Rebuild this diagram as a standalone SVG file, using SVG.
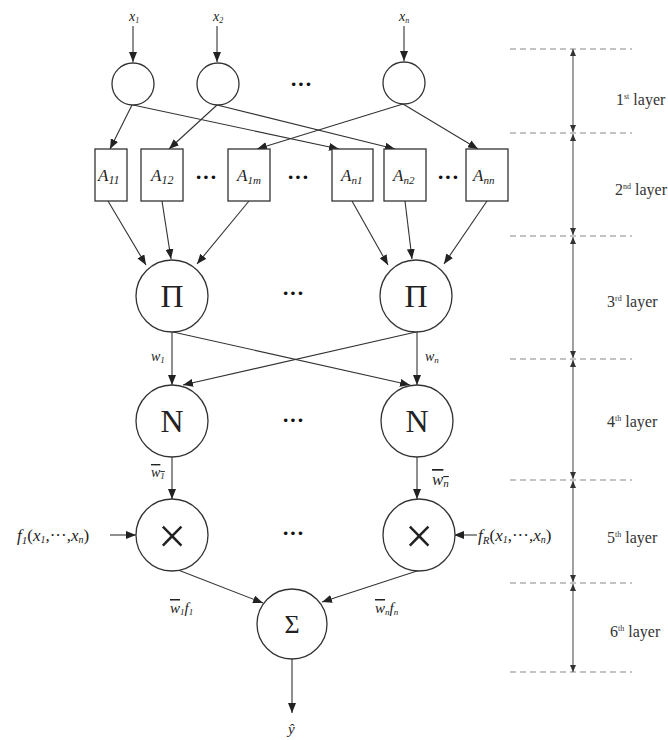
<svg xmlns="http://www.w3.org/2000/svg" width="668" height="740" viewBox="0 0 668 740">
<defs>
<marker id="ah" markerUnits="userSpaceOnUse" markerWidth="10" markerHeight="8" refX="10" refY="4" orient="auto-start-reverse" viewBox="0 0 10 8">
<path d="M0,0 L10,4 L0,8 z" fill="#222"/>
</marker>
<marker id="as" markerUnits="userSpaceOnUse" markerWidth="7" markerHeight="6" refX="7" refY="3" orient="auto-start-reverse" viewBox="0 0 7 6">
<path d="M0,0 L7,3 L0,6 z" fill="#333"/>
</marker>
</defs>
<style>
.n{fill:#fff;stroke:#333;stroke-width:1.3}
.c line,.c path{stroke:#333;stroke-width:1.1;fill:none;marker-end:url(#ah)}
.t{font-family:"Liberation Serif",serif;fill:#222}
.i{font-style:italic}
.big{text-anchor:middle}
.dots{font-family:"Liberation Serif",serif;font-size:22px;font-weight:bold;fill:#111;text-anchor:middle}
.dash{stroke:#888;stroke-width:1.1;stroke-dasharray:6,4}
.scale{stroke:#555;stroke-width:1.1;marker-start:url(#as);marker-end:url(#as)}
.lay{font-family:"Liberation Serif",serif;font-size:16px;fill:#333}
</style>

<rect width="668" height="740" fill="#fff"/>

<!-- connectors -->
<g id="connectors" class="c">
<line x1="133" y1="26" x2="133" y2="62"/>
<line x1="217" y1="26" x2="217" y2="62"/>
<line x1="404" y1="26" x2="404" y2="61"/>
<line x1="132" y1="105" x2="110" y2="149"/>
<line x1="133" y1="105" x2="339" y2="149"/>
<line x1="217" y1="105" x2="169" y2="149"/>
<line x1="217" y1="105" x2="395" y2="149"/>
<line x1="403" y1="104" x2="257" y2="149"/>
<line x1="403" y1="104" x2="478" y2="149"/>
<line x1="108" y1="201" x2="146" y2="265"/>
<line x1="162" y1="201" x2="171" y2="259"/>
<line x1="249" y1="201" x2="197" y2="264"/>
<line x1="352" y1="201" x2="388" y2="265"/>
<line x1="405" y1="201" x2="412" y2="259"/>
<line x1="487" y1="201" x2="444" y2="264"/>
<line x1="172" y1="332" x2="172" y2="385"/>
<line x1="173" y1="332" x2="410" y2="385"/>
<line x1="417" y1="332" x2="417" y2="385"/>
<line x1="416" y1="332" x2="183" y2="385"/>
<line x1="172" y1="457" x2="172" y2="499"/>
<line x1="417" y1="457" x2="417" y2="499"/>
<line x1="110" y1="535" x2="136" y2="535"/>
<line x1="477" y1="535" x2="454" y2="535"/>
<line x1="173" y1="568" x2="263" y2="603"/>
<line x1="420" y1="570" x2="322" y2="602"/>
<line x1="292" y1="659" x2="292" y2="713"/>
</g>

<!-- layer 1 -->
<g id="in1"><circle class="n" cx="133" cy="84" r="21"/><text class="t i" x="129" y="21" font-size="14">x<tspan font-size="8" dy="2">1</tspan></text></g>
<g id="in2"><circle class="n" cx="218" cy="84" r="21"/><text class="t i" x="213" y="21" font-size="14">x<tspan font-size="8" dy="2">2</tspan></text></g>
<g id="inn"><circle class="n" cx="404" cy="83" r="21"/><text class="t i" x="399" y="21" font-size="14">x<tspan font-size="8" dy="2">n</tspan></text></g>
<text class="dots" x="301" y="91">···</text>

<!-- layer 2 -->
<g id="A11"><rect class="n" x="95" y="149" width="32" height="52"/><text class="t i" x="98" y="181" font-size="17">A<tspan font-size="12" dy="3">11</tspan></text></g>
<g id="A12"><rect class="n" x="141" y="149" width="42" height="52"/><text class="t i" x="151" y="181" font-size="17">A<tspan font-size="12" dy="3">12</tspan></text></g>
<g id="A1m"><rect class="n" x="228" y="149" width="42" height="52"/><text class="t i" x="237" y="181" font-size="17">A<tspan font-size="11" dy="3">1m</tspan></text></g>
<g id="An1"><rect class="n" x="332" y="149" width="41" height="52"/><text class="t i" x="341" y="181" font-size="17">A<tspan font-size="11" dy="3">n1</tspan></text></g>
<g id="An2"><rect class="n" x="384" y="149" width="42" height="52"/><text class="t i" x="393" y="181" font-size="17">A<tspan font-size="11" dy="3">n2</tspan></text></g>
<g id="Ann"><rect class="n" x="466" y="149" width="42" height="52"/><text class="t i" x="473" y="181" font-size="17">A<tspan font-size="11" dy="3">nn</tspan></text></g>
<text class="dots" x="206" y="184">···</text>
<text class="dots" x="298" y="184">···</text>
<text class="dots" x="448" y="184">···</text>

<!-- layer 3 -->
<g id="P1"><circle class="n" cx="172" cy="296" r="36"/><text class="t big" x="172" y="307" font-size="32">Π</text></g>
<g id="Pn"><circle class="n" cx="416" cy="296" r="36"/><text class="t big" x="416" y="307" font-size="32">Π</text></g>
<text class="dots" x="293" y="300" font-weight="normal">···</text>
<text class="t i" x="151" y="361" font-size="14">w<tspan font-size="9" dy="2">1</tspan></text>
<text class="t i" x="425" y="361" font-size="14">w<tspan font-size="9" dy="2">n</tspan></text>

<!-- layer 4 -->
<g id="N1"><circle class="n" cx="172" cy="421" r="36"/><text class="t big" x="172" y="432" font-size="32">N</text></g>
<g id="Nn"><circle class="n" cx="417" cy="421" r="36"/><text class="t big" x="417" y="432" font-size="32">N</text></g>
<text class="dots" x="293" y="427" font-weight="normal">···</text>
<text class="t i" x="151" y="477" font-size="14" text-decoration="overline">w<tspan font-size="9" dy="2">1</tspan></text>
<text class="t i" x="432" y="485" font-size="17" text-decoration="overline">w<tspan font-size="11" dy="2">n</tspan></text>

<!-- layer 5 -->
<g id="X1"><circle class="n" cx="172" cy="535" r="36"/><text class="t big" x="172" y="553" font-family="Liberation Sans,sans-serif" font-size="50">×</text></g>
<g id="Xn"><circle class="n" cx="419" cy="535" r="36"/><text class="t big" x="419" y="553" font-family="Liberation Sans,sans-serif" font-size="50">×</text></g>
<text class="dots" x="293" y="540" font-weight="normal">···</text>
<text class="t i" x="17" y="541" font-size="17">f<tspan font-size="11" dy="3">1</tspan><tspan dy="-3" font-style="normal">(</tspan>x<tspan font-size="10" dy="2">1</tspan><tspan dy="-2" font-style="normal">,···,</tspan>x<tspan font-size="10" dy="2">n</tspan><tspan dy="-2" font-style="normal">)</tspan></text>
<text class="t i" x="478" y="541" font-size="17">f<tspan font-size="11" dy="3">R</tspan><tspan dy="-3" font-style="normal">(</tspan>x<tspan font-size="10" dy="2">1</tspan><tspan dy="-2" font-style="normal">,···,</tspan>x<tspan font-size="10" dy="2">n</tspan><tspan dy="-2" font-style="normal">)</tspan></text>

<!-- layer 6 -->
<g id="S"><circle class="n" cx="292" cy="624" r="35"/><text class="t big" x="292" y="633" font-size="26">Σ</text></g>
<text class="t i" x="170" y="613" font-size="15"><tspan text-decoration="overline">w</tspan><tspan font-size="9" dy="2">1</tspan><tspan dy="-2">f</tspan><tspan font-size="9" dy="2">1</tspan></text>
<text class="t i" x="375" y="613" font-size="15"><tspan text-decoration="overline">w</tspan><tspan font-size="9" dy="2">n</tspan><tspan dy="-2">f</tspan><tspan font-size="9" dy="2">n</tspan></text>
<text class="t i" x="288" y="734" font-size="15">ŷ</text>

<!-- layer scale -->
<g id="scale">
<line class="dash" x1="510" y1="49" x2="632" y2="49"/>
<line class="dash" x1="510" y1="133" x2="632" y2="133"/>
<line class="dash" x1="510" y1="236" x2="632" y2="236"/>
<line class="dash" x1="510" y1="359" x2="632" y2="359"/>
<line class="dash" x1="510" y1="480" x2="632" y2="480"/>
<line class="dash" x1="510" y1="583" x2="632" y2="583"/>
<line class="dash" x1="510" y1="672" x2="632" y2="672"/>
<line class="scale" x1="573" y1="49" x2="573" y2="132"/>
<line class="scale" x1="573" y1="134" x2="573" y2="235"/>
<line class="scale" x1="573" y1="237" x2="573" y2="358"/>
<line class="scale" x1="573" y1="360" x2="573" y2="479"/>
<line class="scale" x1="573" y1="481" x2="573" y2="582"/>
<line class="scale" x1="573" y1="584" x2="573" y2="672"/>
<text class="lay" x="616" y="105">1<tspan font-size="8" dy="-6">st</tspan><tspan dy="6"> layer</tspan></text>
<text class="lay" x="615" y="195">2<tspan font-size="8" dy="-6">nd</tspan><tspan dy="6"> layer</tspan></text>
<text class="lay" x="607" y="307">3<tspan font-size="8" dy="-6">rd</tspan><tspan dy="6"> layer</tspan></text>
<text class="lay" x="607" y="427">4<tspan font-size="8" dy="-6">th</tspan><tspan dy="6"> layer</tspan></text>
<text class="lay" x="607" y="543">5<tspan font-size="8" dy="-6">th</tspan><tspan dy="6"> layer</tspan></text>
<text class="lay" x="610" y="637">6<tspan font-size="8" dy="-6">th</tspan><tspan dy="6"> layer</tspan></text>
</g>
</svg>
